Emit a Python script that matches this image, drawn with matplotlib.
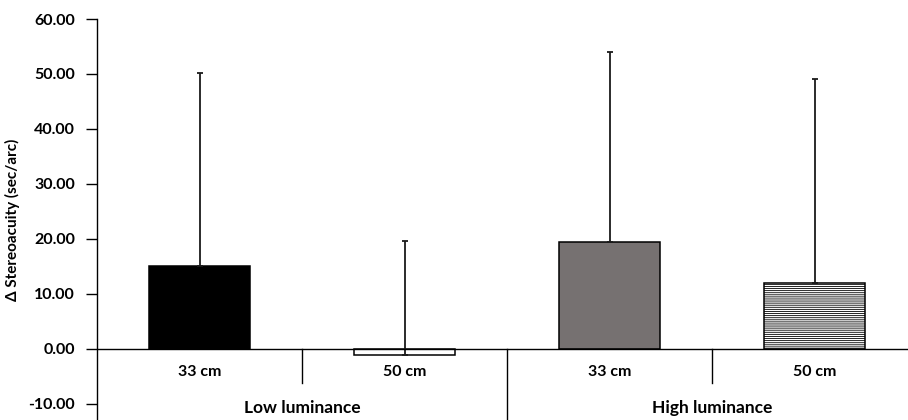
import numpy as np
import matplotlib
matplotlib.use("Agg")
import matplotlib.pyplot as plt

plt.rcParams['font.family'] = ['Lato', 'DejaVu Sans']
plt.rcParams['font.weight'] = 'bold'
plt.rcParams['hatch.linewidth'] = 0.6
plt.rcParams['hatch.color'] = '#8a8a8a'

########## Data
distances = ['33 cm', '50 cm', '33 cm', '50 cm']
groups = ['Low luminance', 'High luminance']
means = [15.1, -1.2, 19.4, 12.0]
upper_err = [35.0, 20.8, 34.6, 37.0]   # mean + err gives the bar's whisker top
y_ticks = [-10, 0, 10, 20, 30, 40, 50, 60]

colors = ['#000000', '#ffffff', '#767171', '#ffffff']
hatches = [None, None, None, '--------']

########## Figure
fig = plt.figure(figsize=(9.08, 4.20), dpi=100)
# axis area in pixels: left 97, top 19, runs past the right edge a little
ax = fig.add_axes([97/908, 0.0, 820/908, (420-19)/420])

x = np.arange(len(means))
bars = ax.bar(x, means, width=0.49, color=colors, edgecolor='black', linewidth=1.1, zorder=2)
for b, h in zip(bars, hatches):
    if h:
        b.set_hatch(h)

ax.errorbar(x, means, yerr=[np.zeros(len(means)), upper_err], fmt='none',
            ecolor='#1a1a1a', elinewidth=1.3, capsize=2, capthick=1.3, zorder=3)

ax.set_xlim(-0.5, len(means) - 0.5)
ax.set_ylim(-13, 60)
ax.set_yticks(y_ticks)
ax.set_yticklabels(['%.2f' % t for t in y_ticks], fontsize=11.5, fontweight='bold')
ax.tick_params(axis='y', direction='out', length=8, width=1, pad=8)
ax.set_xticks([])
ax.set_ylabel('Δ Stereoacuity (sec/arc)', fontsize=11, fontweight='bold', labelpad=6)

for s in ['top', 'right', 'bottom']:
    ax.spines[s].set_visible(False)
ax.spines['left'].set_linewidth(1)
ax.axhline(0, color='black', linewidth=1, zorder=4)

# two-level category axis drawn inside the data area below zero
for i, lab in enumerate(distances):
    ax.text(i, -4.3, lab, ha='center', va='center', fontsize=11.5, fontweight='bold')
for sep in [0.5, 2.5]:
    ax.plot([sep, sep], [0, -6.3], color='black', linewidth=1, clip_on=False)
ax.plot([1.5, 1.5], [0, -13], color='black', linewidth=1, clip_on=False)
for g, lab in enumerate(groups):
    ax.text(2 * g + 0.5, -10.8, lab, ha='center', va='center', fontsize=12.5, fontweight='bold')

fig.savefig('out.png', dpi=100)
